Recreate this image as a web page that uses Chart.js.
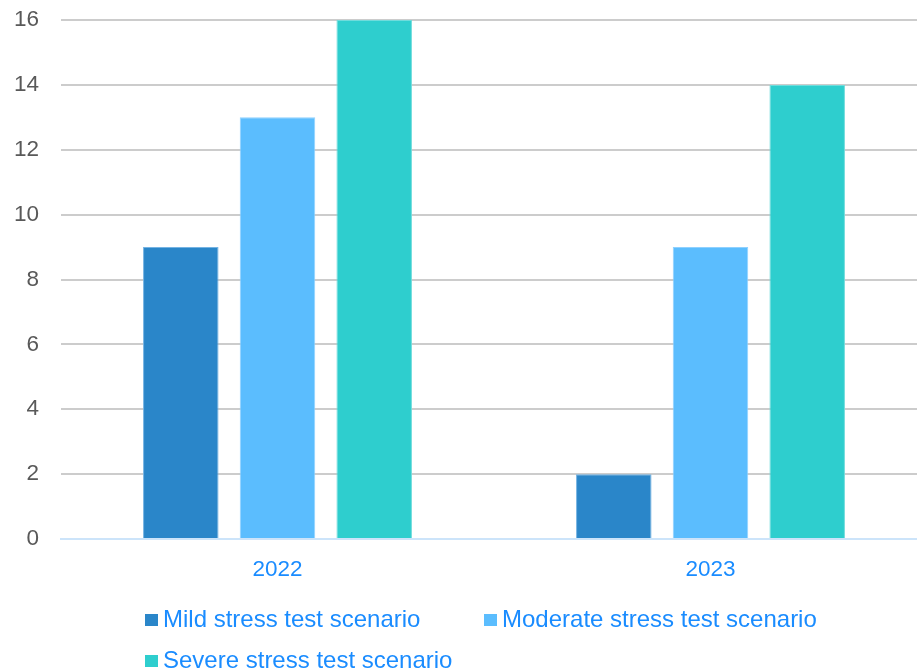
<!DOCTYPE html>
<html>
<head>
<meta charset="utf-8">
<script src="https://cdn.jsdelivr.net/npm/chart.js@4/dist/chart.umd.min.js"></script>
<style>
  html, body { margin: 0; padding: 0; background: #fff; overflow: hidden; }
  #wrap { position: relative; width: 927px; height: 690px; }
</style>
</head>
<body>
<div id="wrap"><canvas id="myChart"></canvas></div>
<script>
const years = ['2022', '2023'];
const mildValues = [9, 2];
const moderateValues = [13, 9];
const severeValues = [16, 14];
const yTicks = [0, 2, 4, 6, 8, 10, 12, 14, 16];

const seriesNames = ['Mild stress test scenario', 'Moderate stress test scenario', 'Severe stress test scenario'];
const seriesColors = ['#2a86c9', '#5bbdfe', '#2ecece'];
const seriesBorders = ['#74b3e3', '#8fd1ff', '#6fdcdc'];

const tickFont = { family: '"Liberation Sans", Arial, sans-serif', size: 22.5 };

// legend rows laid out left aligned, like the office style legend
const bottomLegend = {
  id: 'bottomLegend',
  afterDraw(chart) {
    const ctx = chart.ctx;
    const rows = [
      [{ i: 0, x: 145 }, { i: 1, x: 484 }],
      [{ i: 2, x: 145 }],
    ];
    const rowY = [620, 661];
    ctx.save();
    ctx.font = '24px "Liberation Sans", Arial, sans-serif';
    ctx.textBaseline = 'middle';
    ctx.textAlign = 'left';
    rows.forEach((row, r) => {
      row.forEach((item) => {
        const ds = chart.data.datasets[item.i];
        ctx.fillStyle = ds.backgroundColor;
        ctx.fillRect(item.x, rowY[r] - 6, 13, 12);
        ctx.fillStyle = '#1a8cff';
        ctx.fillText(ds.label, item.x + 18, rowY[r]);
      });
    });
    ctx.restore();
  },
};

const datasets = [mildValues, moderateValues, severeValues].map((vals, i) => ({
  label: seriesNames[i],
  data: vals,
  backgroundColor: seriesColors[i],
  borderColor: seriesBorders[i],
  borderWidth: 1,
  categoryPercentage: 0.67,
  barPercentage: 0.781,
}));

new Chart(document.getElementById('myChart'), {
  type: 'bar',
  data: { labels: years, datasets: datasets },
  options: {
    responsive: true,
    maintainAspectRatio: false,
    animation: false,
    layout: { padding: { top: 20, right: 0, bottom: 91, left: 0 } },
    plugins: {
      legend: { display: false },
      tooltip: { enabled: false },
    },
    scales: {
      x: {
        afterFit: (s) => { s.height = 60; s.paddingLeft = 0; s.paddingRight = 0; },
        grid: { display: false, drawTicks: false },
        border: { display: true, color: '#cce4fa', width: 2 },
        ticks: { color: '#1a8cff', font: tickFont, padding: 17 },
      },
      y: {
        min: 0,
        max: 16,
        afterFit: (s) => { s.width = 61; s.paddingTop = 0; s.paddingBottom = 0; },
        afterBuildTicks: (s) => { s.ticks = yTicks.map((v) => ({ value: v })); },
        grid: {
          color: (c) => (c.tick && c.tick.value === 0 ? 'rgba(0,0,0,0)' : '#cccccc'),
          lineWidth: 2,
          drawTicks: false,
        },
        border: { display: false },
        ticks: { color: '#595959', font: tickFont, padding: 22 },
      },
    },
  },
  plugins: [bottomLegend],
});
</script>
</body>
</html>
